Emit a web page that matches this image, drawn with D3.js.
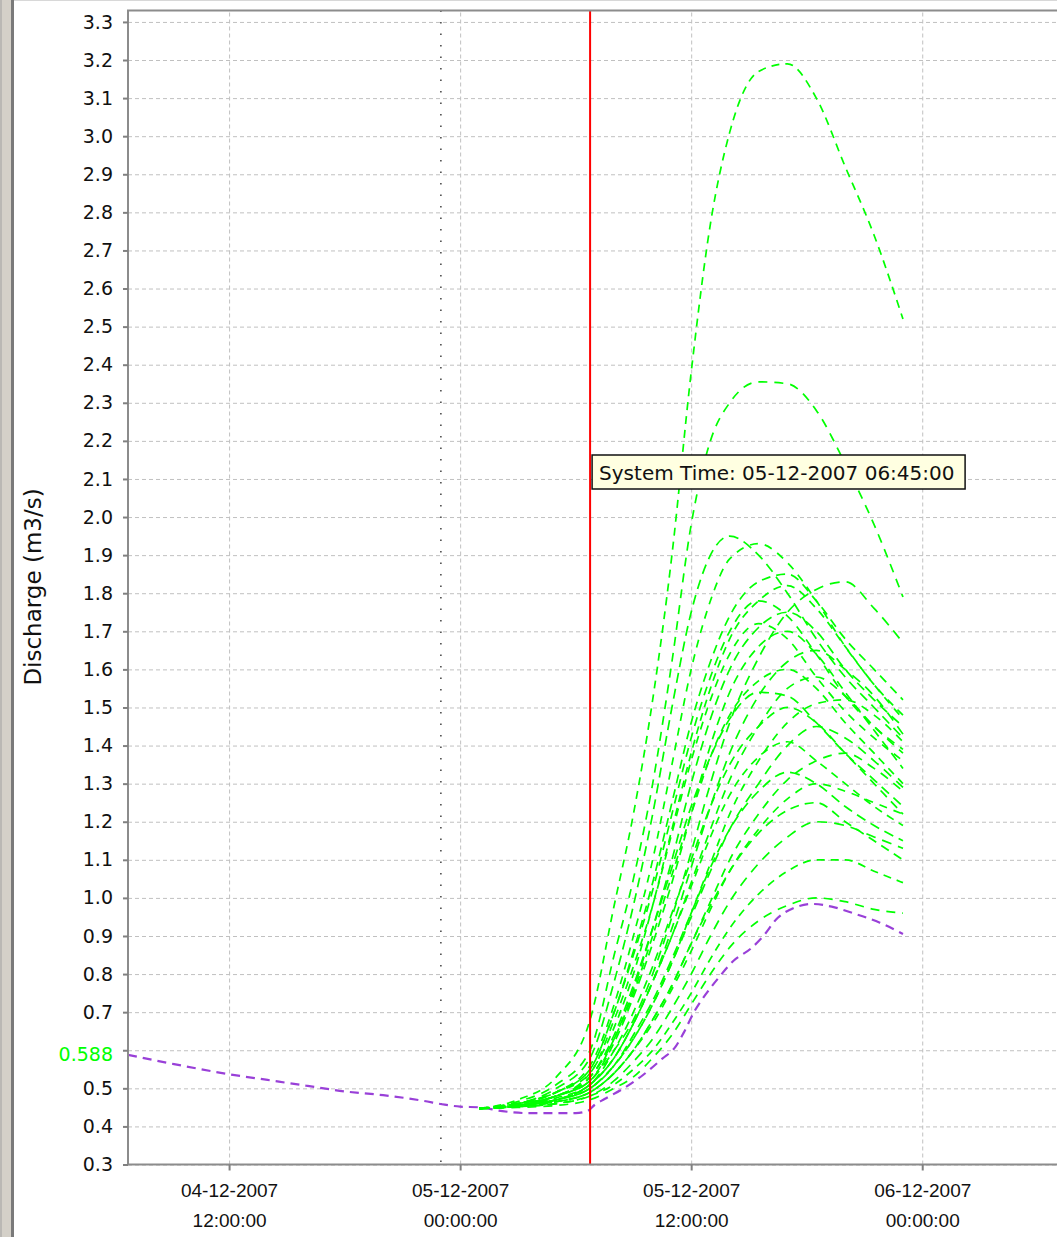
<!DOCTYPE html>
<html>
<head>
<meta charset="utf-8">
<script src="https://cdn.jsdelivr.net/npm/d3@7"></script>
<style>
  body { margin: 0; background: #fff; }
  svg { display: block; font-family: "DejaVu Sans", sans-serif; }
</style>
</head>
<body>
<div id="chart"></div>
<script>
// hours are counted from 05-12-2007 00:00:00
const startHour = -17.25;          // 04-12-2007 06:45
const endHour = 31;                // 06-12-2007 07:00
const systemHour = 6.75;           // 05-12-2007 06:45
const markerHour = -1;             // dotted line, 04-12-2007 23:00
const lastObserved = 0.588;

const xTickHours = [-12, 0, 12, 24];
const yTicks = d3.range(3, 34).map(v => v / 10);

// observed / deterministic series (purple)
const purpleHours = [-17.25, -15, -12, -10, -8, -6, -4, -2, -0.8, 0, 1, 2.2, 3.5, 5, 6, 6.6, 7, 7.5,
  8.5, 9.5, 10.5, 11.2, 11.6, 12.2, 12.8, 13.5, 14.2, 15.1, 15.7, 16.5, 17.3, 18.3, 19.3, 20.4, 21.8, 23];
const purpleValues = [0.588, 0.565, 0.537, 0.522, 0.507, 0.492, 0.482, 0.468, 0.457, 0.452, 0.45, 0.44, 0.435, 0.435, 0.435, 0.44, 0.457, 0.472,
  0.5, 0.535, 0.578, 0.61, 0.645, 0.705, 0.75, 0.795, 0.835, 0.867, 0.897, 0.948, 0.973, 0.984, 0.977, 0.96, 0.935, 0.905];

// ensemble members (green)
const greenHours = [1, 3, 5, 6.75, 8, 9, 10, 11, 12, 13, 14, 15.5, 17, 18.5, 20, 21.5, 23];
const ensembleValues = [
  [0.447, 0.47, 0.53, 0.68, 0.98, 1.22, 1.52, 1.9, 2.38, 2.77, 3.01, 3.17, 3.19, 3.1, 2.92, 2.74, 2.52],
  [0.447, 0.465, 0.51, 0.6, 0.85, 1.05, 1.3, 1.62, 1.98, 2.2, 2.3, 2.355, 2.35, 2.28, 2.14, 1.98, 1.79],
  [0.447, 0.46, 0.5, 0.58, 0.78, 0.98, 1.22, 1.5, 1.75, 1.9, 1.95, 1.9, 1.8, 1.68, 1.58, 1.5, 1.42],
  [0.447, 0.46, 0.49, 0.56, 0.72, 0.9, 1.1, 1.35, 1.6, 1.78, 1.89, 1.93, 1.88, 1.78, 1.66, 1.56, 1.47],
  [0.447, 0.46, 0.49, 0.55, 0.7, 0.86, 1.04, 1.25, 1.46, 1.62, 1.74, 1.83, 1.85, 1.78, 1.68, 1.6, 1.52],
  [0.447, 0.455, 0.48, 0.52, 0.6, 0.68, 0.8, 0.95, 1.12, 1.3, 1.46, 1.63, 1.75, 1.81, 1.83, 1.76, 1.67],
  [0.447, 0.46, 0.48, 0.54, 0.66, 0.8, 0.98, 1.18, 1.38, 1.55, 1.68, 1.78, 1.82, 1.76, 1.66, 1.56, 1.48],
  [0.447, 0.46, 0.49, 0.55, 0.7, 0.85, 1.02, 1.22, 1.42, 1.58, 1.7, 1.78, 1.74, 1.64, 1.53, 1.45, 1.39],
  [0.447, 0.455, 0.48, 0.53, 0.63, 0.76, 0.92, 1.1, 1.3, 1.47, 1.6, 1.71, 1.75, 1.7, 1.6, 1.52, 1.45],
  [0.447, 0.46, 0.49, 0.54, 0.68, 0.82, 0.98, 1.17, 1.36, 1.52, 1.64, 1.72, 1.68, 1.58, 1.49, 1.42, 1.36],
  [0.447, 0.455, 0.48, 0.52, 0.62, 0.74, 0.88, 1.04, 1.22, 1.4, 1.54, 1.66, 1.7, 1.64, 1.54, 1.44, 1.34],
  [0.447, 0.455, 0.47, 0.51, 0.58, 0.67, 0.78, 0.92, 1.08, 1.24, 1.38, 1.53, 1.62, 1.65, 1.6, 1.53, 1.43],
  [0.447, 0.455, 0.48, 0.52, 0.63, 0.75, 0.9, 1.06, 1.22, 1.37, 1.48, 1.57, 1.6, 1.55, 1.46, 1.38, 1.3],
  [0.447, 0.455, 0.47, 0.51, 0.58, 0.67, 0.78, 0.9, 1.04, 1.18, 1.31, 1.45, 1.55, 1.58, 1.53, 1.45, 1.38],
  [0.447, 0.46, 0.48, 0.53, 0.64, 0.77, 0.92, 1.08, 1.24, 1.37, 1.47, 1.54, 1.53, 1.46, 1.38, 1.31, 1.24],
  [0.447, 0.455, 0.47, 0.5, 0.56, 0.63, 0.72, 0.83, 0.96, 1.09, 1.22, 1.36, 1.46, 1.51, 1.52, 1.48, 1.41],
  [0.447, 0.455, 0.475, 0.51, 0.6, 0.7, 0.82, 0.96, 1.1, 1.24, 1.35, 1.45, 1.5, 1.46, 1.38, 1.3, 1.22],
  [0.447, 0.455, 0.47, 0.5, 0.56, 0.63, 0.72, 0.83, 0.95, 1.07, 1.18, 1.3, 1.4, 1.45, 1.42, 1.36, 1.29],
  [0.447, 0.455, 0.47, 0.51, 0.58, 0.67, 0.78, 0.9, 1.03, 1.16, 1.27, 1.37, 1.41, 1.36, 1.3, 1.24, 1.19],
  [0.447, 0.455, 0.465, 0.49, 0.54, 0.6, 0.68, 0.77, 0.88, 0.99, 1.1, 1.22, 1.31, 1.36, 1.38, 1.34, 1.28],
  [0.447, 0.455, 0.47, 0.5, 0.56, 0.64, 0.73, 0.84, 0.96, 1.08, 1.18, 1.28, 1.33, 1.3, 1.24, 1.19, 1.15],
  [0.447, 0.452, 0.465, 0.49, 0.54, 0.6, 0.67, 0.76, 0.86, 0.97, 1.07, 1.18, 1.26, 1.3, 1.28, 1.25, 1.22],
  [0.447, 0.452, 0.465, 0.49, 0.54, 0.6, 0.68, 0.77, 0.88, 0.98, 1.07, 1.17, 1.23, 1.25, 1.2, 1.15, 1.1],
  [0.447, 0.452, 0.46, 0.48, 0.52, 0.57, 0.63, 0.71, 0.8, 0.9, 0.99, 1.09, 1.16, 1.2, 1.19, 1.16, 1.13],
  [0.447, 0.452, 0.46, 0.48, 0.51, 0.55, 0.6, 0.67, 0.75, 0.84, 0.92, 1.01, 1.07, 1.1, 1.1, 1.07, 1.04],
  [0.447, 0.45, 0.455, 0.47, 0.5, 0.53, 0.58, 0.64, 0.72, 0.8, 0.87, 0.94, 0.98, 1.0, 0.99, 0.97, 0.96],
];

const base = new Date(2007, 11, 5, 0, 0, 0);
const at = h => new Date(base.getTime() + h * 3600 * 1000);

const width = 1057;
const height = 1237;
const plotLeft = 128, plotRight = 1057, plotTop = 10.5, plotBottom = 1164.5;

const x = d3.scaleTime()
  .domain([at(startHour), at(endHour)])
  .range([plotLeft, plotRight]);

const y = d3.scaleLinear()
  .domain([0.3, 3.33])
  .range([plotBottom, plotTop]);

const svg = d3.select('#chart').append('svg')
  .attr('width', width)
  .attr('height', height)
  .attr('viewBox', [0, 0, width, height]);

svg.append('rect').attr('width', width).attr('height', height).attr('fill', '#fff');

// window edge on the left
svg.append('rect').attr('x', 0).attr('y', 0).attr('width', 11).attr('height', height).attr('fill', '#d4d0c8');
svg.append('line').attr('x1', 1).attr('x2', 1).attr('y1', 0).attr('y2', height).attr('stroke', '#a0a0a0');
svg.append('line').attr('x1', 12.5).attr('x2', 12.5).attr('y1', 0).attr('y2', height)
  .attr('stroke', '#7a7a7a').attr('stroke-width', 3);
svg.append('line').attr('x1', 14).attr('x2', width).attr('y1', 0.5).attr('y2', 0.5).attr('stroke', '#d8d8d8');

// grid
svg.append('g')
  .attr('transform', `translate(${plotLeft},0)`)
  .call(d3.axisLeft(y).tickValues(yTicks).tickSize(-(plotRight - plotLeft)).tickFormat(''))
  .call(g => g.select('.domain').remove())
  .call(g => g.selectAll('line').attr('stroke', '#c0c0c0').attr('stroke-dasharray', '4,3'));

svg.append('g')
  .attr('transform', `translate(0,${plotBottom})`)
  .call(d3.axisBottom(x).tickValues(xTickHours.map(at)).tickSize(-(plotBottom - plotTop)).tickFormat(''))
  .call(g => g.select('.domain').remove())
  .call(g => g.selectAll('line').attr('stroke', '#c0c0c0').attr('stroke-dasharray', '4,3'));

// dotted marker
svg.append('line')
  .attr('x1', x(at(markerHour))).attr('x2', x(at(markerHour)))
  .attr('y1', plotTop).attr('y2', plotBottom)
  .attr('stroke', '#404040').attr('stroke-width', 1.5)
  .attr('stroke-dasharray', '1.5,10');

const line = d3.line()
  .x(d => x(at(d[0])))
  .y(d => y(d[1]))
  .curve(d3.curveMonotoneX);

svg.append('path')
  .attr('d', line(purpleHours.map((h, i) => [h, purpleValues[i]])))
  .attr('fill', 'none')
  .attr('stroke', '#9940d8')
  .attr('stroke-width', 2.2)
  .attr('stroke-dasharray', '9,6');

svg.append('g')
  .selectAll('path')
  .data(ensembleValues)
  .join('path')
    .attr('d', vals => line(greenHours.map((h, i) => [h, vals[i]])))
    .attr('fill', 'none')
    .attr('stroke', '#00ff00')
    .attr('stroke-width', 1.7)
    .attr('stroke-dasharray', (d, i) => `${8 + (i % 3)},${6 + (i % 2)}`);

// system time
svg.append('line')
  .attr('x1', x(at(systemHour))).attr('x2', x(at(systemHour)))
  .attr('y1', plotTop).attr('y2', plotBottom)
  .attr('stroke', '#ff0000').attr('stroke-width', 2);

// frame
svg.append('path')
  .attr('d', `M${plotRight},${plotTop}H${plotLeft}V${plotBottom}H${plotRight}`)
  .attr('fill', 'none')
  .attr('stroke', '#8c8c8c')
  .attr('stroke-width', 2);

// y axis
svg.append('g')
  .attr('transform', `translate(${plotLeft},0)`)
  .call(d3.axisLeft(y).tickValues(yTicks).tickSize(5).tickPadding(10).tickFormat(d3.format('.1f')))
  .call(g => g.select('.domain').remove())
  .call(g => g.selectAll('line').attr('stroke', '#808080').attr('stroke-width', 2))
  .call(g => g.selectAll('text')
    .attr('font-size', 19)
    .attr('font-family', 'DejaVu Sans')
    .attr('fill', '#111')
    .text(d => Math.abs(d - 0.6) < 1e-9 ? '' : d3.format('.1f')(d)));

svg.append('text')
  .attr('x', 113)
  .attr('y', y(lastObserved))
  .attr('dy', '0.35em')
  .attr('text-anchor', 'end')
  .attr('font-size', 19)
  .attr('fill', '#00ff00')
  .text(lastObserved);

// x axis
const fDate = d3.timeFormat('%d-%m-%Y');
const fTime = d3.timeFormat('%H:%M:%S');
const xAxis = svg.append('g')
  .attr('transform', `translate(0,${plotBottom})`)
  .call(d3.axisBottom(x).tickValues(xTickHours.map(at)).tickSize(6).tickFormat(''))
  .call(g => g.select('.domain').remove())
  .call(g => g.selectAll('line').attr('stroke', '#808080').attr('stroke-width', 2));

xAxis.selectAll('.tick').each(function(d) {
  const t = d3.select(this);
  t.append('text').attr('y', 32).attr('text-anchor', 'middle')
    .attr('font-size', 19).attr('fill', '#111').text(fDate(d));
  t.append('text').attr('y', 62).attr('text-anchor', 'middle')
    .attr('font-size', 19).attr('fill', '#111').text(fTime(d));
});

// y title
svg.append('text')
  .attr('transform', `translate(41,587) rotate(-90)`)
  .attr('text-anchor', 'middle')
  .attr('font-size', 23)
  .attr('fill', '#111')
  .text('Discharge (m3/s)');

// tooltip
const tip = svg.append('g').attr('transform', `translate(${x(at(systemHour)) + 2},455)`);
tip.append('rect')
  .attr('width', 373).attr('height', 34)
  .attr('fill', '#ffffe1')
  .attr('stroke', '#111')
  .attr('stroke-width', 1.5);
tip.append('text')
  .attr('x', 7).attr('y', 25)
  .attr('font-size', 20)
  .attr('fill', '#111')
  .text('System Time: ' + fDate(at(systemHour)) + ' ' + fTime(at(systemHour)));
</script>
</body>
</html>
